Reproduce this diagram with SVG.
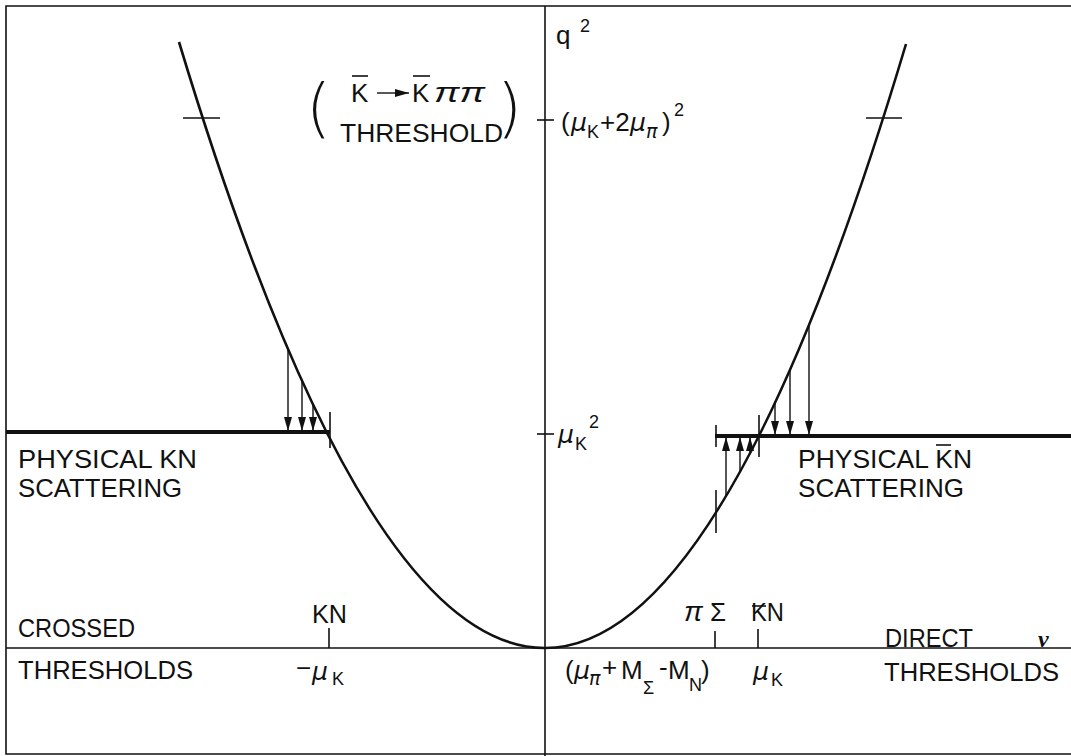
<svg xmlns="http://www.w3.org/2000/svg" width="1071" height="756" viewBox="0 0 1071 756">
<style>
.t{font-family:"Liberation Sans","DejaVu Sans",sans-serif;font-size:26px;fill:#111}
.s{font-family:"Liberation Sans","DejaVu Sans",sans-serif;font-size:18px;fill:#111}
.g{font-family:"DejaVu Sans","Liberation Sans",sans-serif;font-style:italic;font-size:25px;fill:#111}
.gs{font-family:"DejaVu Sans","Liberation Sans",sans-serif;font-style:italic;font-size:19px;fill:#111}
.pi{font-family:"Liberation Sans","DejaVu Sans",sans-serif;font-style:italic;font-size:28px;fill:#111}
.p{font-family:"DejaVu Sans","Liberation Sans",sans-serif;font-weight:200;font-size:64px;fill:#111}
.ln{stroke:#111;stroke-width:1.6;fill:none}
.th{stroke:#111;stroke-width:4;fill:none}
.cv{stroke:#111;stroke-width:2.6;fill:none}
.ar{stroke:#111;stroke-width:1.4;fill:none;marker-end:url(#ah)}
</style>
<defs>
<marker id="ah" viewBox="0 0 14 8" refX="14" refY="4" markerWidth="14" markerHeight="8" markerUnits="userSpaceOnUse" orient="auto">
<path d="M0,0 L14,4 L0,8 z" fill="#111"/>
</marker>
</defs>
<rect width="1071" height="756" fill="#fff"/>
<g id="frame">
<path class="ln" d="M1071,6 H6 V754 H1071"/>
</g>
<g id="axes">
<line class="ln" x1="545" y1="6" x2="545" y2="756"/>
<line class="ln" x1="6" y1="648" x2="1071" y2="648"/>
<line class="ln" x1="537" y1="120" x2="554" y2="120"/>
<line class="ln" x1="537" y1="434" x2="554" y2="434"/>
<line class="ln" x1="329" y1="628" x2="329" y2="648"/>
<line class="ln" x1="715" y1="631" x2="715" y2="648"/>
<line class="ln" x1="758" y1="629" x2="758" y2="648"/>
</g>
<g id="curve">
<path class="cv" d="M545,648 Q362,648 179,42"/>
<path class="cv" d="M545,648 Q725.5,648 906,44"/>
<line class="ln" x1="183" y1="118" x2="220" y2="118"/>
<line class="ln" x1="866" y1="118" x2="902" y2="118"/>
</g>
<g id="physical-kn">
<line class="th" x1="6" y1="432" x2="330" y2="432"/>
<line class="ln" x1="330" y1="412" x2="330" y2="448" stroke-width="2"/>
</g>
<g id="physical-kbarn">
<line class="th" x1="715" y1="436" x2="1071" y2="436"/>
<line class="ln" x1="716" y1="425" x2="716" y2="447" stroke-width="2"/>
<line class="ln" x1="759" y1="415" x2="759" y2="457" stroke-width="2"/>
<line class="ln" x1="716" y1="490" x2="716" y2="533" stroke-width="2"/>
</g>
<g id="connectors">
<line class="ar" x1="288" y1="350" x2="288" y2="431"/>
<line class="ar" x1="302" y1="381" x2="302" y2="431"/>
<line class="ar" x1="313" y1="405" x2="313" y2="431"/>
<line class="ar" x1="775" y1="403" x2="775" y2="435"/>
<line class="ar" x1="790" y1="370" x2="790" y2="435"/>
<line class="ar" x1="809" y1="325" x2="809" y2="435"/>
<line class="ar" x1="726" y1="496" x2="726" y2="437"/>
<line class="ar" x1="740" y1="472" x2="740" y2="437"/>
<line class="ar" x1="750" y1="453" x2="750" y2="437"/>
</g>
<g id="label-q2">
<text class="t" x="556" y="44">q</text>
<text class="s" x="580" y="32">2</text>
</g>
<g id="label-threshold">
<text class="p" x="306" y="130">(</text>
<text class="p" x="497" y="130">)</text>
<text class="t" x="351" y="102">K</text>
<line class="ln" x1="352" y1="76" x2="368" y2="76"/>
<line class="ar" x1="377" y1="93" x2="409" y2="93"/>
<text class="t" x="412" y="102">K</text>
<line class="ln" x1="413" y1="76" x2="430" y2="76"/>
<text class="pi" x="434" y="102" textLength="51" lengthAdjust="spacingAndGlyphs">ππ</text>
<text class="t" x="340" y="142" textLength="163" lengthAdjust="spacingAndGlyphs">THRESHOLD</text>
</g>
<g id="label-muk2pi">
<text class="t" x="561" y="131">(</text>
<text class="g" x="571" y="131">μ</text>
<text class="s" x="587" y="138">K</text>
<text class="t" x="600" y="131">+2</text>
<text class="g" x="630" y="131">μ</text>
<text class="gs" x="646" y="138">π</text>
<text class="t" x="662" y="131">)</text>
<text class="s" x="674" y="116">2</text>
</g>
<g id="label-muk">
<text class="g" x="558" y="443">μ</text>
<text class="s" x="575" y="450">K</text>
<text class="s" x="589" y="428">2</text>
</g>
<g id="label-physical-left">
<text class="t" x="18" y="468" textLength="179" lengthAdjust="spacingAndGlyphs">PHYSICAL  KN</text>
<text class="t" x="18" y="497" textLength="164" lengthAdjust="spacingAndGlyphs">SCATTERING</text>
</g>
<g id="label-physical-right">
<text class="t" x="798" y="468" textLength="174" lengthAdjust="spacingAndGlyphs">PHYSICAL  KN</text>
<line class="ln" x1="936" y1="445" x2="951" y2="445"/>
<text class="t" x="798" y="497" textLength="166" lengthAdjust="spacingAndGlyphs">SCATTERING</text>
</g>
<g id="label-crossed">
<text class="t" x="18" y="637" textLength="117" lengthAdjust="spacingAndGlyphs">CROSSED</text>
<text class="t" x="18" y="679" textLength="175" lengthAdjust="spacingAndGlyphs">THRESHOLDS</text>
</g>
<g id="label-kn-left">
<text class="t" x="312" y="623" textLength="35" lengthAdjust="spacingAndGlyphs">KN</text>
<text class="t" x="296" y="677">−</text>
<text class="g" x="312" y="680">μ</text>
<text class="s" x="332" y="685">K</text>
</g>
<g id="label-pisigma">
<text class="pi" x="684" y="621">π</text>
<text class="t" x="710" y="621">Σ</text>
</g>
<g id="label-kbarn">
<text class="t" x="751" y="621" textLength="33" lengthAdjust="spacingAndGlyphs">KN</text>
<line class="ln" x1="752" y1="606" x2="766" y2="606"/>
<text class="g" x="753" y="680">μ</text>
<text class="s" x="771" y="686">K</text>
</g>
<g id="label-mass">
<text class="t" x="565" y="679">(</text>
<text class="g" x="574" y="679">μ</text>
<text class="gs" x="589" y="685">π</text>
<text class="t" x="602" y="676">+</text>
<text class="t" x="621" y="679">M</text>
<text class="s" x="643" y="694">Σ</text>
<text class="t" x="659" y="676">-</text>
<text class="t" x="668" y="679">M</text>
<text class="s" x="689" y="691">N</text>
<text class="t" x="701" y="679">)</text>
</g>
<g id="label-direct">
<text class="t" x="885" y="647" textLength="88" lengthAdjust="spacingAndGlyphs">DIRECT</text>
<text x="1038" y="647" style="font-family:'Liberation Serif',serif;font-style:italic;font-weight:bold;font-size:24px;fill:#111">ν</text>
<text class="t" x="884" y="681" textLength="175" lengthAdjust="spacingAndGlyphs">THRESHOLDS</text>
</g>
</svg>
